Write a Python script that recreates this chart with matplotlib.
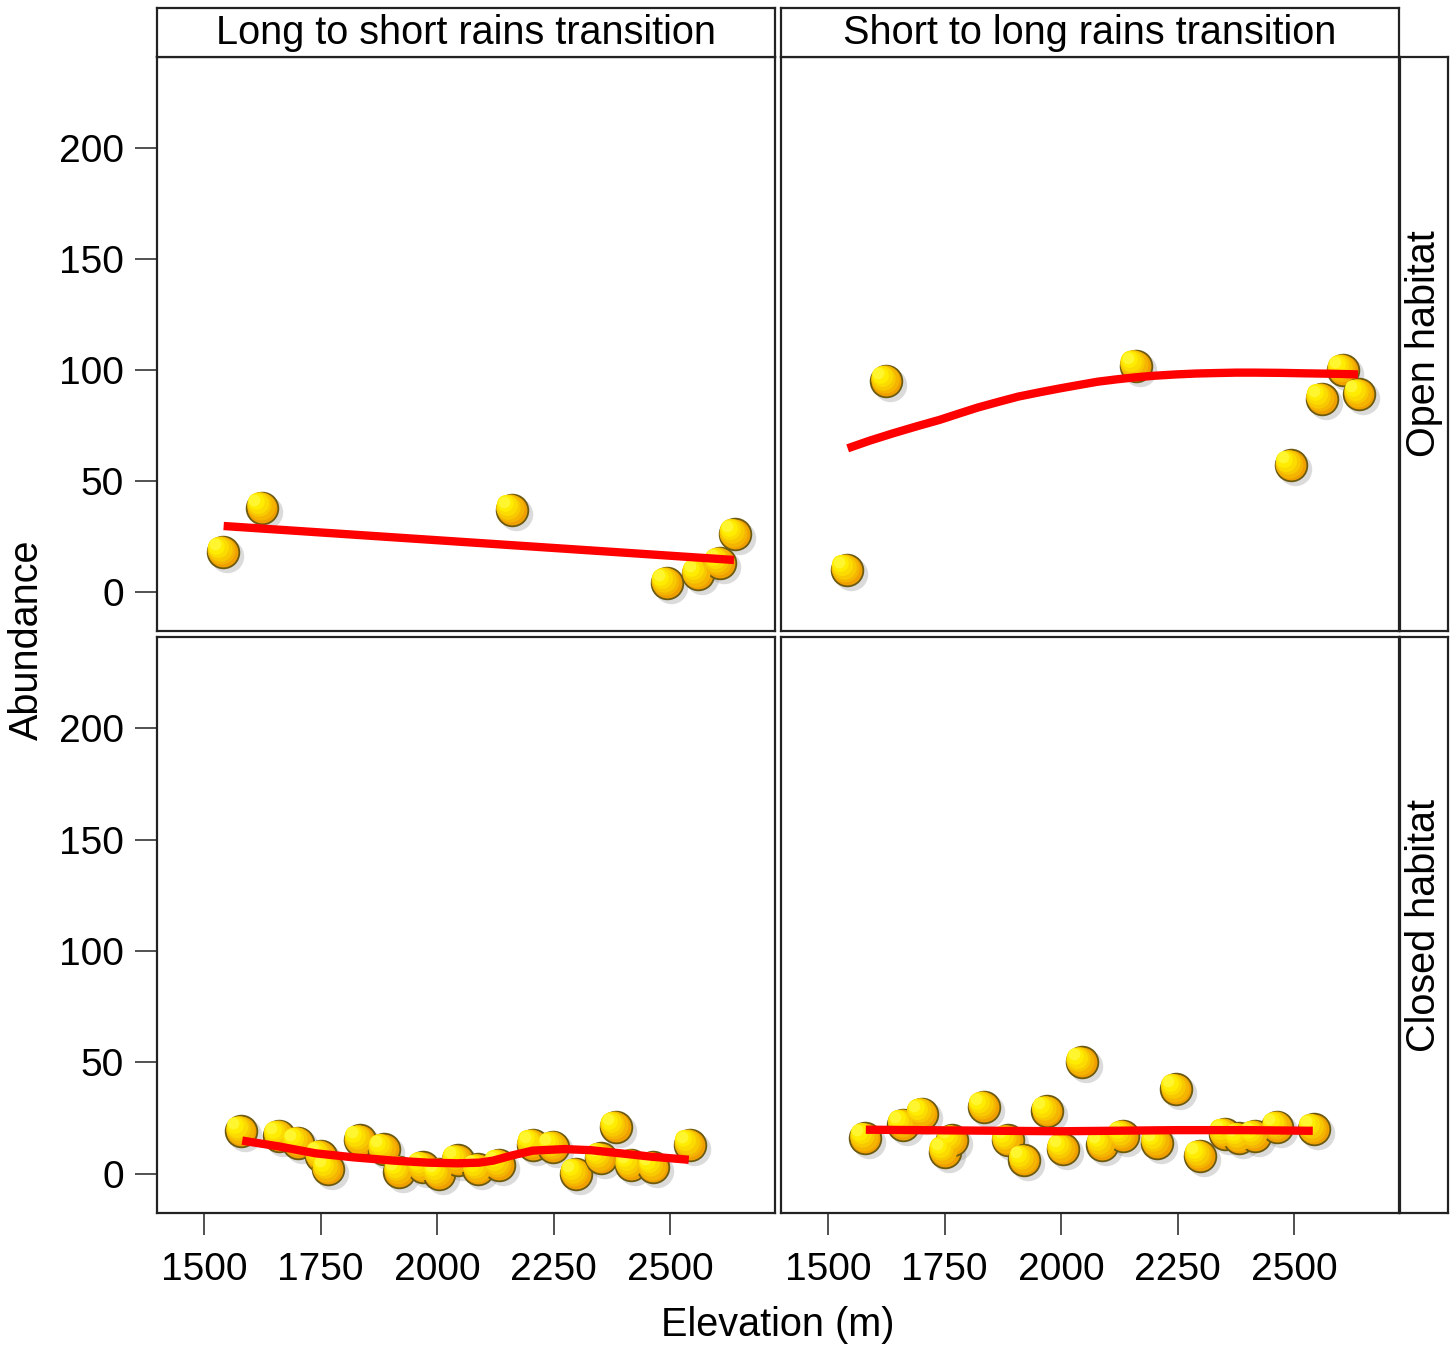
import matplotlib
matplotlib.use("Agg")
import matplotlib.pyplot as plt
import matplotlib.transforms as mtrans
import numpy as np

plt.rcParams['font.family'] = ['Liberation Sans', 'DejaVu Sans']

# --- data ---
seasons = ["Long to short rains transition", "Short to long rains transition"]
habitats = ["Open habitat", "Closed habitat"]

# open habitat, long -> short
open_ls_x = [1540, 1625, 2160, 2493, 2559, 2606, 2639]
open_ls_y = [18, 38, 37, 4, 8, 13, 26]
open_ls_fit_x = [1542, 2637]
open_ls_fit_y = [29.7, 14.4]

# open habitat, short -> long
open_sl_x = [1540, 1625, 2160, 2493, 2559, 2605, 2640]
open_sl_y = [10, 95, 102, 57, 87, 100, 89]
open_sl_fit_x = [1542, 1590, 1640, 1690, 1739, 1780, 1820, 1865, 1908, 1955, 2000, 2040,
                 2078, 2120, 2160, 2200, 2247, 2290, 2330, 2375, 2416, 2470, 2520, 2580, 2637]
open_sl_fit_y = [64.7, 68.2, 71.5, 74.6, 77.5, 80.3, 83.0, 85.6, 88.0, 90.0, 91.8, 93.3,
                 94.7, 95.8, 96.7, 97.4, 98.0, 98.4, 98.6, 98.8, 98.8, 98.7, 98.5, 98.3, 98.0]

# closed habitat, long -> short
closed_ls_x = [1580, 1661, 1702, 1750, 1766, 1834, 1885, 1919, 1969, 2003, 2044,
               2088, 2133, 2205, 2249, 2298, 2351, 2383, 2415, 2464, 2542]
closed_ls_y = [19, 17, 14, 8, 2, 15, 11, 1, 3, 0, 6,
               2, 4, 13, 12, 0, 7, 21, 4, 3, 13]
closed_ls_fit_x = [1582, 1660, 1739, 1820, 1908, 1980, 2044, 2090, 2120, 2160, 2205,
                   2273, 2330, 2375, 2420, 2459, 2500, 2540]
closed_ls_fit_y = [14.9, 12.3, 9.2, 7.4, 5.9, 5.0, 4.7, 5.0, 5.9, 8.2, 10.4,
                   11.1, 10.6, 9.6, 8.6, 7.7, 7.0, 6.3]

# closed habitat, short -> long
closed_sl_x = [1580, 1661, 1702, 1750, 1766, 1834, 1885, 1921, 1970, 2003, 2044,
               2088, 2133, 2205, 2247, 2298, 2351, 2382, 2415, 2464, 2542]
closed_sl_y = [16, 22, 27, 10, 15, 30, 15, 6, 28, 11, 50,
               13, 17, 14, 38, 8, 18, 16, 17, 21, 20]
closed_sl_fit_x = [1581, 1750, 2000, 2250, 2400, 2540]
closed_sl_fit_y = [19.8, 19.5, 19.1, 19.6, 19.6, 19.3]

panels = [
    [(open_ls_x, open_ls_y, open_ls_fit_x, open_ls_fit_y),
     (open_sl_x, open_sl_y, open_sl_fit_x, open_sl_fit_y)],
    [(closed_ls_x, closed_ls_y, closed_ls_fit_x, closed_ls_fit_y),
     (closed_sl_x, closed_sl_y, closed_sl_fit_x, closed_sl_fit_y)],
]

yticks = [0, 50, 100, 150, 200]
xticks = [1500, 1750, 2000, 2250, 2500]

W, H = 1455, 1345
fig = plt.figure(figsize=(W / 100, H / 100), dpi=100)


def rect(x0, y0, x1, y1):
    return [x0 / W, 1 - y1 / H, (x1 - x0) / W, (y1 - y0) / H]


def balls(ax, x, y):
    x = np.asarray(x)
    y = np.asarray(y)
    shadow = mtrans.offset_copy(ax.transData, fig=fig, x=4, y=-4, units='dots')
    ax.scatter(x, y, s=580, color='#9a9a9a', alpha=0.35, lw=0, transform=shadow, zorder=2)
    ax.scatter(x, y, s=520, facecolor='#EFA000', edgecolor='#6B5A10', lw=1.3, zorder=3)
    cols = ['#F4B400', '#F8C800', '#FCDC00', '#FFEC00', '#FFF630']
    fracs = [0.78, 0.6, 0.44, 0.28, 0.14]
    for k, (c, f) in enumerate(zip(cols, fracs)):
        off = mtrans.offset_copy(ax.transData, fig=fig, x=-1.6 * (k + 1), y=1.6 * (k + 1), units='dots')
        ax.scatter(x, y, s=520 * f, color=c, lw=0, transform=off, zorder=4 + k * 0.1)


cols_px = [(157, 775), (781, 1399)]
rows_px = [(57, 631), (637, 1213)]

for r, (y0, y1) in enumerate(rows_px):
    for c, (x0, x1) in enumerate(cols_px):
        ax = fig.add_axes(rect(x0, y0, x1, y1))
        px, py, fx, fy = panels[r][c]
        balls(ax, px, py)
        ax.plot(fx, fy, color='#FF0000', lw=6, solid_capstyle='butt', zorder=6)
        ax.set_xlim(1399, 2725)
        ax.set_ylim(-17.6, 241)
        for sp in ax.spines.values():
            sp.set_linewidth(1.6)
            sp.set_color('#222222')
        ax.tick_params(length=16, width=1.2, color='#333333', labelsize=28, pad=8)
        ax.tick_params(axis='x', pad=12)
        ax.set_yticks(yticks)
        ax.set_xticks(xticks)
        if c != 0:
            ax.tick_params(axis='y', left=False, labelleft=False)
        if r != 1:
            ax.tick_params(axis='x', bottom=False, labelbottom=False)

# strips on top
for c, (x0, x1) in enumerate(cols_px):
    sax = fig.add_axes(rect(x0, 8, x1, 57))
    sax.set_xticks([])
    sax.set_yticks([])
    for sp in sax.spines.values():
        sp.set_linewidth(1.6)
        sp.set_color('#222222')
    sax.text(0.5, 0.5, seasons[c], ha='center', va='center', fontsize=28.5, transform=sax.transAxes)

# strips on the right
for r, (y0, y1) in enumerate(rows_px):
    sax = fig.add_axes(rect(1400, y0, 1448, y1))
    sax.set_xticks([])
    sax.set_yticks([])
    for sp in sax.spines.values():
        sp.set_linewidth(1.6)
        sp.set_color('#222222')
    sax.text(0.5, 0.5, habitats[r], ha='center', va='center', rotation=90, fontsize=28.5,
             transform=sax.transAxes)

fig.text(27 / W, 1 - 640 / H, "Abundance", rotation=90, ha='center', va='center', fontsize=28.5)
fig.text(778 / W, 1 - 1325 / H, "Elevation (m)", ha='center', va='center', fontsize=28.5)

fig.savefig("out.png", dpi=100)
